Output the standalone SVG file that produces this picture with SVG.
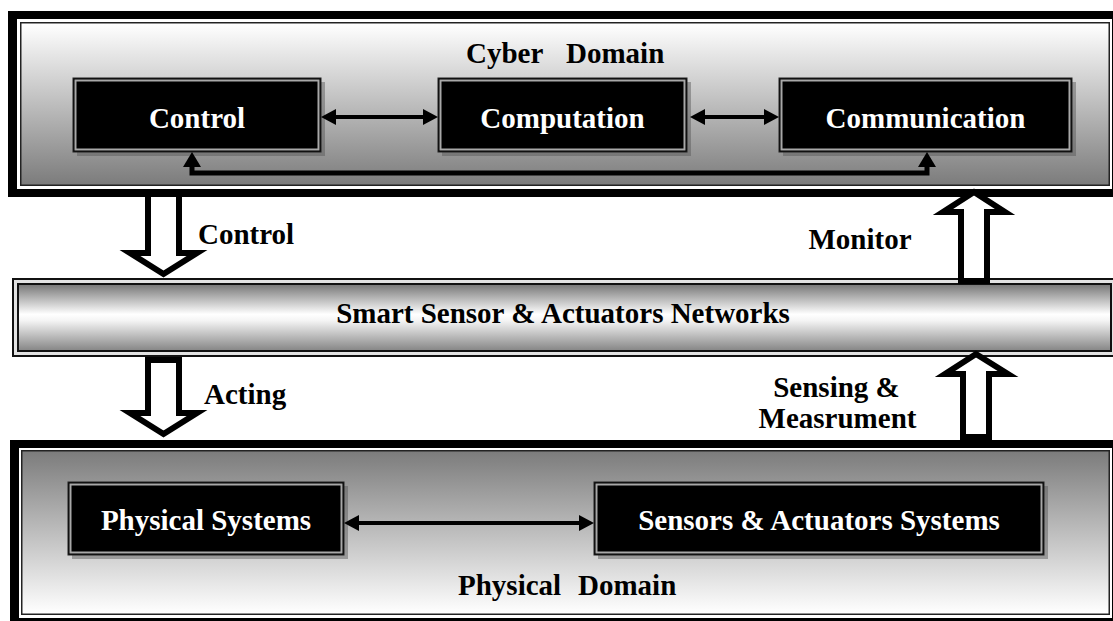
<svg xmlns="http://www.w3.org/2000/svg" width="1113" height="621" viewBox="0 0 1113 621">
<style>
text{font-family:"Liberation Serif","Times New Roman",serif;font-weight:bold;font-size:29px;}
.w{fill:#fff;text-anchor:middle;}
.k{fill:#000;}
.shadow{fill:#555;opacity:.45;}
.box{fill:#000;stroke:#222;stroke-width:1;}
.boxin{fill:none;stroke:#a8a8a8;stroke-width:2;}
.link{fill:none;stroke:#000;stroke-width:4;marker-start:url(#ah);marker-end:url(#ah);}
.fb{fill:none;stroke:#000;stroke-width:5;stroke-linejoin:miter;marker-start:url(#ah2);marker-end:url(#ah2);}
.blk{fill:#fff;stroke:#000;stroke-width:6;stroke-linejoin:miter;stroke-miterlimit:10;}
</style>
<defs>
<linearGradient id="gCyber" x1="0" y1="0" x2="0" y2="1">
<stop offset="0" stop-color="#ffffff"/><stop offset="1" stop-color="#7c7c7c"/>
</linearGradient>
<linearGradient id="gPhys" x1="0" y1="0" x2="0" y2="1">
<stop offset="0" stop-color="#7c7c7c"/><stop offset="1" stop-color="#ffffff"/>
</linearGradient>
<linearGradient id="gBand" x1="0" y1="0" x2="0" y2="1">
<stop offset="0" stop-color="#7a7a7a"/><stop offset="0.45" stop-color="#ffffff"/><stop offset="0.55" stop-color="#f4f4f4"/><stop offset="1" stop-color="#888888"/>
</linearGradient>
<marker id="ah" viewBox="0 0 15 16" markerWidth="15" markerHeight="16" markerUnits="userSpaceOnUse" refX="7" refY="8" orient="auto-start-reverse">
<path d="M0,0 L15,8 L0,16 z" fill="#000"/>
</marker>
<marker id="ah2" viewBox="0 0 15 18" markerWidth="15" markerHeight="18" markerUnits="userSpaceOnUse" refX="7" refY="9" orient="auto-start-reverse">
<path d="M0,0 L15,9 L0,18 z" fill="#000"/>
</marker>
</defs>
<rect width="1113" height="621" fill="#fff"/>

<g id="cyber-domain">
<rect x="8" y="11" width="1115" height="186" fill="#000"/>
<rect x="17" y="19" width="1095" height="170" fill="#fff"/>
<rect x="20" y="22" width="1090" height="164" fill="#222"/>
<rect x="21.5" y="23.5" width="1087" height="161" fill="url(#gCyber)"/>
<text class="k" x="466" y="63">Cyber</text>
<text class="k" x="566" y="63">Domain</text>
</g>

<g id="smart-network">
<rect x="12" y="278" width="1110" height="79" fill="#111"/>
<rect x="14" y="280" width="1101" height="75" fill="#e2e2e2"/>
<rect x="17" y="283" width="1095" height="69" fill="#111"/>
<rect x="19" y="285" width="1091" height="65" fill="url(#gBand)"/>
<text class="k" x="563" y="323" text-anchor="middle">Smart Sensor &amp; Actuators Networks</text>
</g>

<g id="physical-domain">
<rect x="10" y="440" width="1115" height="190" fill="#000"/>
<rect x="19" y="448" width="1093" height="170" fill="#fff"/>
<rect x="21" y="450" width="1089" height="165" fill="#222"/>
<rect x="22.5" y="451.5" width="1086" height="162" fill="url(#gPhys)"/>
<text class="k" x="458" y="595">Physical</text>
<text class="k" x="578" y="595">Domain</text>
</g>

<g id="control">
<rect class="shadow" x="77" y="82" width="248" height="74"/>
<rect class="box" x="73" y="78" width="248" height="74"/>
<rect class="boxin" x="75.5" y="80.5" width="243" height="69"/>
<text class="w" x="197" y="128">Control</text>
</g>

<g id="computation">
<rect class="shadow" x="442" y="82" width="249" height="74"/>
<rect class="box" x="438" y="78" width="249" height="74"/>
<rect class="boxin" x="440.5" y="80.5" width="244" height="69"/>
<text class="w" x="562.5" y="128">Computation</text>
</g>

<g id="communication">
<rect class="shadow" x="783" y="82" width="293" height="74"/>
<rect class="box" x="779" y="78" width="293" height="74"/>
<rect class="boxin" x="781.5" y="80.5" width="288" height="69"/>
<text class="w" x="925.5" y="128">Communication</text>
</g>

<g id="physical-systems">
<rect class="shadow" x="72" y="486" width="276" height="73"/>
<rect class="box" x="68" y="482" width="276" height="73"/>
<rect class="boxin" x="70.5" y="484.5" width="271" height="68"/>
<text class="w" x="206" y="530">Physical Systems</text>
</g>

<g id="sensors-actuators">
<rect class="shadow" x="598" y="486" width="450" height="73"/>
<rect class="box" x="594" y="482" width="450" height="73"/>
<rect class="boxin" x="596.5" y="484.5" width="445" height="68"/>
<text class="w" x="819" y="530">Sensors &amp; Actuators Systems</text>
</g>

<g id="connectors">
<line class="link" x1="329" y1="117" x2="430" y2="117"/>
<line class="link" x1="698" y1="117" x2="771" y2="117"/>
<line class="link" x1="352" y1="523" x2="586" y2="523"/>
<path class="fb" d="M192,160 V173 H927 V160"/>
<polygon class="blk" points="148,194 179,194 179,253 197,253 163.5,274 130,253 148,253"/>
<polygon class="blk" points="148,360 179,360 179,413 197,413 163.5,434 130,413 148,413"/>
<polygon class="blk" points="961,281 987,281 987,212 1005,212 974,192 943,212 961,212"/>
<polygon class="blk" points="963,437 989,437 989,374 1008,374 976,354 945,374 963,374"/>
<text class="k" x="198" y="244">Control</text>
<text class="k" x="204" y="404">Acting</text>
<text class="k" x="860" y="249" text-anchor="middle">Monitor</text>
<text class="k" x="836.5" y="397" text-anchor="middle">Sensing &amp;</text>
<text class="k" x="837.5" y="428" text-anchor="middle">Measrument</text>
</g>
</svg>
